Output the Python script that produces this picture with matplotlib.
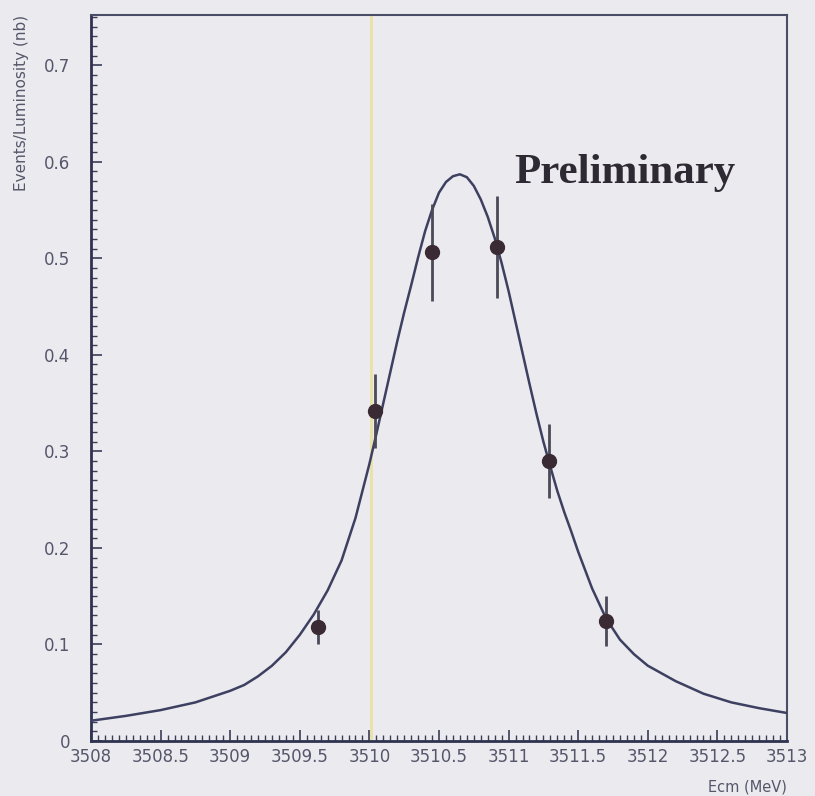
import matplotlib
matplotlib.use("Agg")
import matplotlib.pyplot as plt
from matplotlib.ticker import MultipleLocator, FixedLocator

# Data points (Ecm in MeV, Events/Luminosity in nb)
x_pts = [3509.63, 3510.04, 3510.45, 3510.92, 3511.29, 3511.70]
y_pts = [0.118, 0.342, 0.506, 0.512, 0.290, 0.124]
y_err = [0.018, 0.038, 0.050, 0.053, 0.038, 0.026]

# Fitted curve
curve_x = [3508.0, 3508.25, 3508.5, 3508.75, 3509.0, 3509.1, 3509.2, 3509.3,
           3509.4, 3509.5, 3509.6, 3509.7, 3509.8, 3509.9, 3510.0, 3510.05,
           3510.1, 3510.15, 3510.2, 3510.25, 3510.3, 3510.35, 3510.4, 3510.45,
           3510.5, 3510.55, 3510.6, 3510.65, 3510.7, 3510.75, 3510.8, 3510.85,
           3510.9, 3510.95, 3511.0, 3511.05, 3511.1, 3511.15, 3511.2, 3511.25,
           3511.3, 3511.35, 3511.4, 3511.45, 3511.5, 3511.6, 3511.7, 3511.8,
           3511.9, 3512.0, 3512.2, 3512.4, 3512.6, 3512.8, 3513.0]
curve_y = [0.021, 0.026, 0.032, 0.040, 0.052, 0.058, 0.067, 0.078,
           0.092, 0.110, 0.131, 0.156, 0.187, 0.231, 0.287, 0.318,
           0.350, 0.382, 0.414, 0.444, 0.472, 0.501, 0.528, 0.550,
           0.568, 0.579, 0.585, 0.587, 0.584, 0.575, 0.561, 0.543,
           0.521, 0.495, 0.466, 0.434, 0.402, 0.370, 0.339, 0.310,
           0.284, 0.259, 0.237, 0.217, 0.196, 0.158, 0.127, 0.105,
           0.090, 0.078, 0.062, 0.049, 0.040, 0.034, 0.029]

x_ticks = [3508, 3508.5, 3509, 3509.5, 3510, 3510.5, 3511, 3511.5, 3512, 3512.5, 3513]
x_ticklabels = ["3508", "3508.5", "3509", "3509.5", "3510", "3510.5", "3511",
                "3511.5", "3512", "3512.5", "3513"]
y_ticks = [0, 0.1, 0.2, 0.3, 0.4, 0.5, 0.6, 0.7]
y_ticklabels = ["0", "0.1", "0.2", "0.3", "0.4", "0.5", "0.6", "0.7"]
marker_line_x = 3510.01

bg = "#ebeaef"
fig = plt.figure(figsize=(8.15, 7.96), dpi=100, facecolor=bg)
ax = fig.add_axes([91/815, 55/796, 696/815, 726/796], facecolor=bg)

ax.axvline(marker_line_x, color="#e9e2a6", lw=2.0, zorder=1)

ax.plot(curve_x, curve_y, color="#3d4060", lw=1.8, zorder=3,
        solid_joinstyle="round", solid_capstyle="round")
ax.errorbar(x_pts, y_pts, yerr=y_err, fmt="o", color="#3a2a33", ms=10,
            ecolor="#4a4a58", elinewidth=2.0, capsize=0, zorder=4)

ax.set_xlim(3508, 3513)
ax.set_ylim(0, 0.752)

ax.xaxis.set_major_locator(FixedLocator(x_ticks))
ax.set_xticklabels(x_ticklabels)
ax.xaxis.set_minor_locator(MultipleLocator(0.05))
ax.yaxis.set_major_locator(FixedLocator(y_ticks))
ax.set_yticklabels(y_ticklabels)
ax.yaxis.set_minor_locator(MultipleLocator(0.01))

lab_col = "#55566a"
ax.tick_params(axis="both", which="major", direction="in", length=8, width=1.2,
               color="#3a3d55", labelsize=12, labelcolor=lab_col)
ax.tick_params(axis="both", which="minor", direction="in", length=4, width=1.0,
               color="#3a3d55")
ax.tick_params(axis="x", which="major", pad=5)
ax.tick_params(axis="y", which="major", pad=15)
ax.tick_params(top=False, right=False, which="both")

for s in ["left", "bottom"]:
    ax.spines[s].set_color("#2f3350")
    ax.spines[s].set_linewidth(2.0)
for s in ["top", "right"]:
    ax.spines[s].set_color("#4a4d66")
    ax.spines[s].set_linewidth(1.5)

ax.text(3511.04, 0.578, "Preliminary", family="Liberation Serif", weight="bold",
        fontsize=31, color="#2e2a33", ha="left", va="baseline", zorder=5)

fig.text(22/815, 1 - 15/796, "Events/Luminosity (nb)", rotation=90, ha="center",
         va="top", fontsize=11, color=lab_col)
fig.text(787/815, 2/796, "Ecm (MeV)", ha="right", va="bottom", fontsize=10.5,
         color=lab_col)

fig.savefig("out.png", dpi=100, facecolor=bg)
